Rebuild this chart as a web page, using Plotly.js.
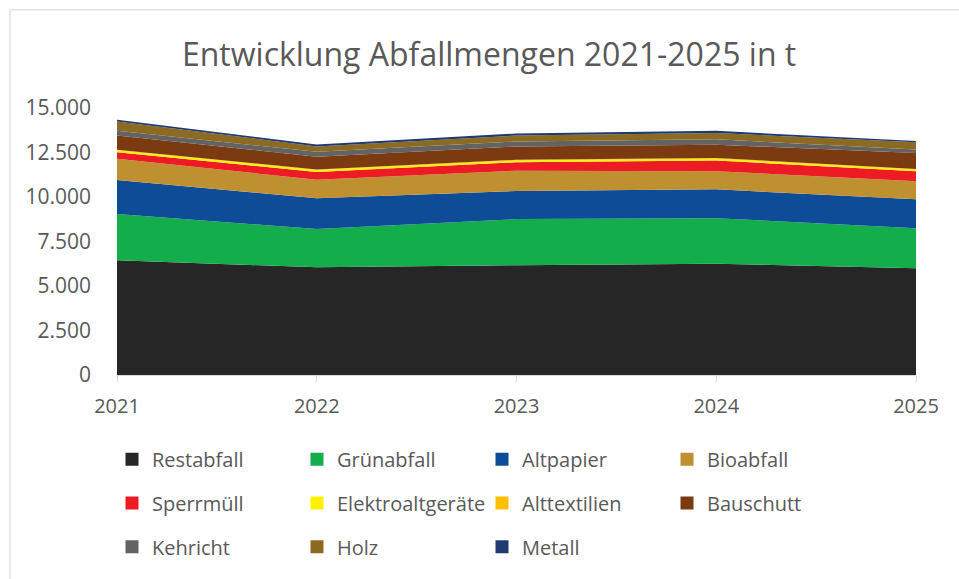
<!DOCTYPE html>
<html>
<head>
<meta charset="utf-8">
<script src="https://cdn.plot.ly/plotly-3.0.1.min.js"></script>
<style>html,body{margin:0;padding:0;background:#fff;}#chart{width:959px;height:579px;}</style>
</head>
<body>
<div id="chart"></div>
<script>
const years = ["2021", "2022", "2023", "2024", "2025"];
const seriesNames = ["Restabfall", "Grünabfall", "Altpapier", "Bioabfall", "Sperrmüll", "Elektroaltgeräte", "Alttextilien", "Bauschutt", "Kehricht", "Holz", "Metall"];
const restabfall = [6450, 6050, 6170, 6250, 6000];
const gruenabfall = [2600, 2150, 2590, 2560, 2250];
const altpapier = [1900, 1730, 1580, 1620, 1620];
const bioabfall = [1200, 1040, 1140, 1020, 1020];
const sperrmuell = [370, 430, 470, 600, 560];
const elektro = [100, 110, 100, 100, 90];
const alttextilien = [40, 40, 40, 40, 40];
const bauschutt = [800, 710, 750, 750, 890];
const kehricht = [260, 280, 280, 300, 200];
const holz = [520, 300, 330, 350, 400];
const metall = [100, 110, 120, 130, 70];
const yTickVals = [0, 2500, 5000, 7500, 10000, 12500, 15000];
const yTickText = ["0", "2.500", "5.000", "7.500", "10.000", "12.500", "15.000"];

const values = [restabfall, gruenabfall, altpapier, bioabfall, sperrmuell, elektro, alttextilien, bauschutt, kehricht, holz, metall];
const colors = ["#262626", "#13AE4B", "#0F4C97", "#BF9030", "#ED1C24", "#FFF200", "#FFC000", "#7B3A10", "#636363", "#8C6A21", "#1F3A70"];
const legendFor = ["legend","legend","legend","legend","legend2","legend2","legend2","legend2","legend3","legend3","legend3"];

// stacked areas (legend drawn by square-marker proxies below)
const areaTraces = seriesNames.map((n, i) => ({
  type: "scatter",
  mode: "none",
  name: n,
  x: years,
  y: values[i],
  stackgroup: "one",
  fillcolor: colors[i],
  showlegend: false,
  hoverinfo: "x+y+name"
}));
const legendTraces = seriesNames.map((n, i) => ({
  type: "scatter",
  mode: "markers",
  name: n,
  x: [null],
  y: [null],
  marker: {symbol: "square", size: 13, color: colors[i]},
  legend: legendFor[i],
  showlegend: true,
  hoverinfo: "skip"
}));

const FONT = "Open Sans, sans-serif";
const legendBase = {
  orientation: "h",
  xref: "paper", yref: "paper",
  xanchor: "left", yanchor: "middle",
  x: -5 / 799,
  entrywidth: 140, entrywidthmode: "pixels",
  font: {family: FONT, size: 20, color: "#595959"},
  traceorder: "normal",
  bgcolor: "rgba(0,0,0,0)",
  itemwidth: 30
};
const plotH = 269;
function ly(py) { return (377 - py) / plotH; }

const layout = {
  width: 959, height: 579,
  margin: {l: 117, r: 43, t: 108, b: 202},
  paper_bgcolor: "#ffffff",
  plot_bgcolor: "#ffffff",
  showlegend: true,
  title: {
    text: "Entwicklung Abfallmengen 2021-2025 in t",
    font: {family: FONT, size: 32, color: "#595959"},
    x: 0.51, xanchor: "center", y: 0.905, yanchor: "middle"
  },
  xaxis: {
    type: "category",
    range: [0, 4],
    showgrid: false,
    showline: true, linecolor: "#d9d9d9", linewidth: 1,
    ticks: "outside", ticklen: 6, tickcolor: "#d9d9d9",
    ticklabelstandoff: 7,
    tickfont: {family: FONT, size: 20, color: "#595959"},
    zeroline: false,
    fixedrange: true
  },
  yaxis: {
    range: [0, 15000],
    tickvals: yTickVals, ticktext: yTickText,
    showgrid: true, gridcolor: "#d9d9d9", gridwidth: 1,
    zeroline: false, showline: false,
    ticks: "", ticklabelstandoff: 25,
    tickfont: {family: FONT, size: 21, color: "#595959"},
    fixedrange: true
  },
  legend: Object.assign({}, legendBase, {y: ly(462)}),
  legend2: Object.assign({}, legendBase, {y: ly(506)}),
  legend3: Object.assign({}, legendBase, {y: ly(550)}),
  shapes: [{
    type: "rect", xref: "paper", yref: "paper",
    x0: (10 - 117) / 799, x1: (975 - 117) / 799,
    y0: (377 - 600) / plotH, y1: (377 - 9) / plotH,
    line: {color: "#e3e3e3", width: 1.5}, fillcolor: "rgba(0,0,0,0)", layer: "below"
  }]
};

Plotly.newPlot("chart", areaTraces.concat(legendTraces), layout, {displayModeBar: false, staticPlot: true});
</script>
</body>
</html>
